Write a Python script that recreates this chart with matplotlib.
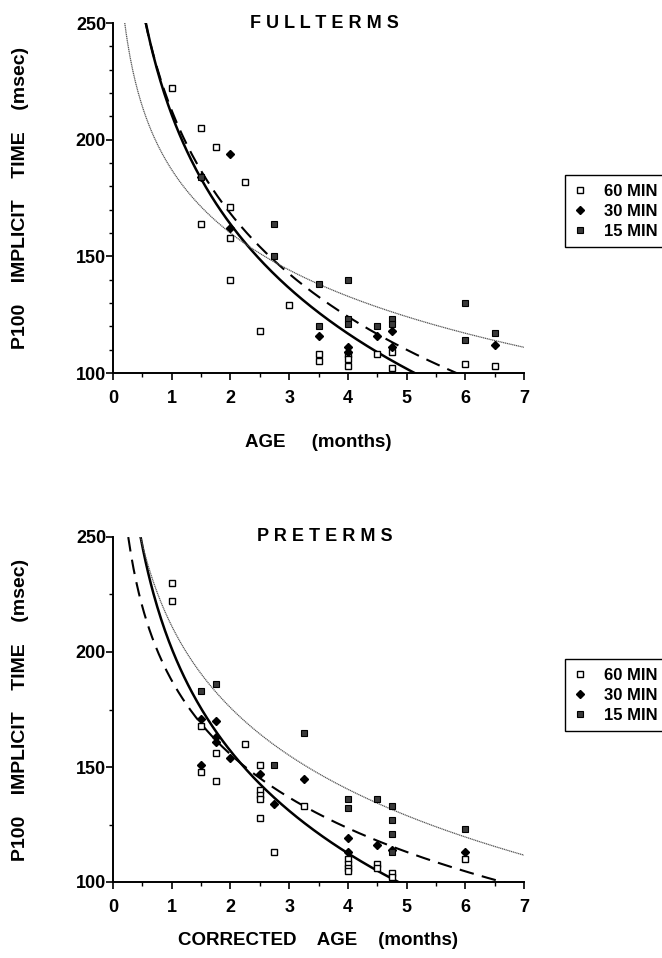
import matplotlib.pyplot as plt
import numpy as np
from matplotlib.ticker import MultipleLocator

plt.rcParams["font.family"] = ["Liberation Sans", "DejaVu Sans"]
plt.rcParams["font.weight"] = "bold"

# ---- FULLTERMS (top) ----
full_60_x = [1.0, 1.5, 1.75, 2.25, 2.0, 1.5, 2.0, 2.0, 3.0, 2.5, 3.5, 3.5, 4.0, 4.0, 4.0, 4.5, 4.75, 4.75, 6.0, 6.5]
full_60_y = [222, 205, 197, 182, 171, 164, 158, 140, 129, 118, 108, 105, 108, 106, 103, 108, 109, 102, 104, 103]
full_30_x = [1.5, 2.0, 2.0, 3.5, 4.0, 4.0, 4.5, 4.75, 4.75, 6.5]
full_30_y = [184, 194, 162, 116, 111, 109, 116, 118, 111, 112]
full_15_x = [1.5, 2.75, 2.75, 3.5, 4.0, 3.5, 4.0, 4.0, 4.5, 4.75, 4.75, 6.0, 6.0, 6.5]
full_15_y = [184, 164, 150, 138, 140, 120, 123, 121, 120, 123, 121, 130, 114, 117]
# log fits y = a + b*ln(x): (a, b, x_start)
full_fit_60 = (210.7, -67.65, 0.55)
full_fit_30 = (212.5, -63.7, 0.55)
full_fit_15 = (187.1, -39.1, 0.2)

# ---- PRETERMS (bottom) ----
pre_60_x = [1.0, 1.0, 1.5, 1.75, 2.25, 1.5, 1.75, 2.5, 2.5, 2.5, 2.5, 3.25, 2.5, 2.75, 4.0, 4.0, 4.0, 4.0, 4.5, 4.5, 4.75, 4.75, 6.0]
pre_60_y = [230, 222, 168, 156, 160, 148, 144, 151, 140, 138, 136, 133, 128, 113, 110, 108, 106, 105, 108, 106, 104, 102, 110]
pre_30_x = [1.5, 1.75, 1.75, 1.75, 1.5, 2.0, 2.5, 3.25, 2.75, 4.0, 4.5, 4.75, 6.0, 4.0]
pre_30_y = [171, 170, 163, 161, 151, 154, 147, 145, 134, 119, 116, 114, 113, 113]
pre_15_x = [1.5, 1.75, 3.25, 2.75, 4.0, 4.0, 4.5, 4.75, 4.75, 4.75, 6.0, 4.75]
pre_15_y = [183, 186, 165, 151, 136, 132, 136, 133, 127, 121, 123, 113]
pre_fit_60 = (201.5, -64.2, 0.47)
pre_fit_30 = (187.6, -46.3, 0.26)
pre_fit_15 = (211.3, -51.2, 0.47)

legend_labels = ["60 MIN", "30 MIN", "15 MIN"]

W, H = 662, 958
fig = plt.figure(figsize=(W / 100, H / 100), dpi=100)


def draw_panel(rect, title, xlabel, pts, fits, minor_y, legend_y, xlabelpad):
    ax = fig.add_axes(rect)
    (x60, y60), (x30, y30), (x15, y15) = pts
    f60, f30, f15 = fits
    for (a, b, x0), ls, lw, col in [
        (f60, "-", 1.8, "black"),
        (f30, (0, (7, 4)), 1.5, "black"),
        (f15, (0, (1, 0.5)), 0.9, "#555555"),
    ]:
        xs = np.linspace(x0, 7, 300)
        ax.plot(xs, a + b * np.log(xs), ls=ls, lw=lw, color=col, zorder=2)
    h60, = ax.plot(x60, y60, ls="none", marker="s", ms=5, mfc="white", mec="black", mew=1.0, zorder=3)
    h30, = ax.plot(x30, y30, ls="none", marker="D", ms=4, mfc="black", mec="black", zorder=4)
    h15, = ax.plot(x15, y15, ls="none", marker="s", ms=5, mfc="#3a3a3a", mec="black", mew=0.8, zorder=4)

    ax.set_xlim(0, 7)
    ax.set_ylim(100, 250)
    ax.xaxis.set_major_locator(MultipleLocator(1))
    ax.xaxis.set_minor_locator(MultipleLocator(0.5))
    ax.yaxis.set_major_locator(MultipleLocator(50))
    ax.yaxis.set_minor_locator(MultipleLocator(minor_y))
    for s in ["top", "right"]:
        ax.spines[s].set_visible(False)
    for s in ["left", "bottom"]:
        ax.spines[s].set_linewidth(1.4)
    ax.tick_params(which="major", direction="out", length=5, width=1.2, labelsize=13, pad=3)
    ax.tick_params(axis="x", which="major", pad=7)
    ax.tick_params(which="minor", direction="out", length=3, width=1.0)
    ax.tick_params(axis="y", pad=0)
    for lab in ax.get_xticklabels() + ax.get_yticklabels():
        lab.set_fontweight("bold")

    ax.text(3.6, 250, title, ha="center", va="center", fontsize=13, fontweight="bold")
    ax.set_xlabel(xlabel, fontsize=13.5, fontweight="bold", labelpad=xlabelpad)
    ax.set_ylabel("P100    IMPLICIT    TIME    (msec)", fontsize=14, fontweight="bold", labelpad=34)

    fig.legend([h60, h30, h15], legend_labels, loc="upper left",
               bbox_to_anchor=(557 / W, legend_y, 0.25, 0.0), mode="expand",
               frameon=True, fancybox=False, edgecolor="black", framealpha=1,
               prop={"weight": "bold", "size": 12}, handlelength=0.8,
               handletextpad=1.0, labelspacing=0.3, borderpad=0.5)
    return ax


draw_panel([113 / W, 1 - 373 / H, 411 / W, 350 / H], "F U L L T E R M S", "AGE     (months)",
           [(full_60_x, full_60_y), (full_30_x, full_30_y), (full_15_x, full_15_y)],
           [full_fit_60, full_fit_30, full_fit_15], 10, 1 - 167 / H, 20)
draw_panel([113 / W, 1 - 882 / H, 411 / W, 345 / H], "P R E T E R M S", "CORRECTED    AGE    (months)",
           [(pre_60_x, pre_60_y), (pre_30_x, pre_30_y), (pre_15_x, pre_15_y)],
           [pre_fit_60, pre_fit_30, pre_fit_15], 25, 1 - 651 / H, 12)

fig.savefig("out.png", dpi=100)
